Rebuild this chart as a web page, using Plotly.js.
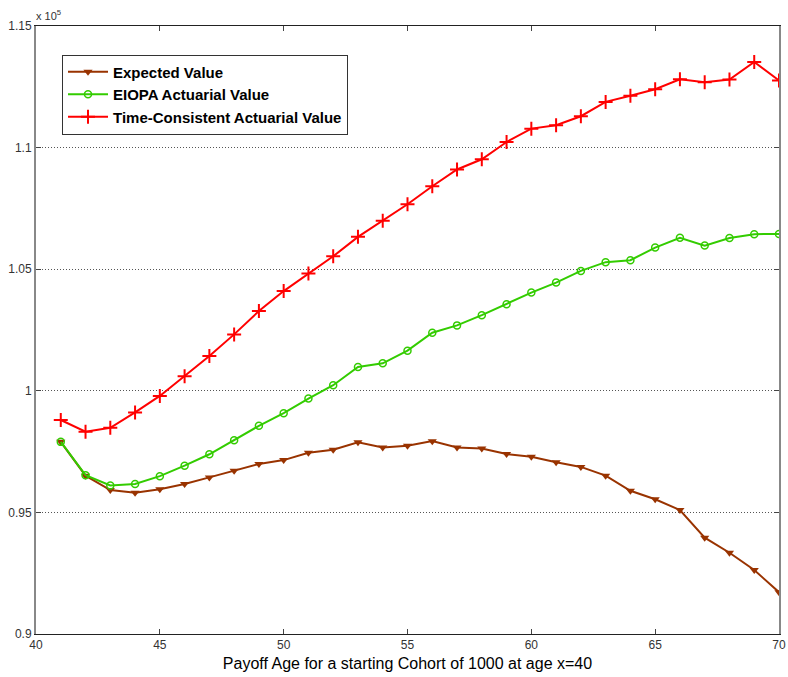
<!DOCTYPE html>
<html>
<head>
<meta charset="utf-8">
<script src="https://cdn.plot.ly/plotly-3.0.1.min.js"></script>
<style>html,body{margin:0;padding:0;background:#fff;}#chart{width:788px;height:677px;}</style>
</head>
<body>
<div id="chart"></div>
<script>
// Payoff ages
var ages = [41,42,43,44,45,46,47,48,49,50,51,52,53,54,55,56,57,58,59,60,61,62,63,64,65,66,67,68,69,70];
// Values in units of 10^5
var expectedValue = [0.979,0.9651,0.9592,0.9581,0.9595,0.9617,0.9644,0.9671,0.9699,0.9715,0.9745,0.9758,0.9788,0.9767,0.9774,0.9793,0.9767,0.9763,0.974,0.9729,0.9706,0.9687,0.9651,0.9589,0.9554,0.951,0.9396,0.9334,0.9263,0.9172];
var eiopaValue = [0.979,0.9653,0.9611,0.9617,0.9649,0.9692,0.9739,0.9797,0.9856,0.9908,0.9968,1.0023,1.0098,1.0113,1.0165,1.0239,1.0269,1.0311,1.0356,1.0404,1.0445,1.0493,1.0529,1.0537,1.0589,1.0629,1.0597,1.0628,1.0644,1.0645];
var timeConsistentValue = [0.988,0.9832,0.9848,0.9911,0.9979,1.006,1.0143,1.0232,1.0328,1.041,1.0482,1.0553,1.0633,1.0699,1.0767,1.0841,1.091,1.0952,1.1023,1.1078,1.1092,1.1129,1.1188,1.1213,1.124,1.1281,1.1269,1.128,1.1352,1.1276];
var seriesNames = ['Expected Value','EIOPA Actuarial Value','Time-Consistent Actuarial Value'];
var xTicks = [40,45,50,55,60,65,70];
var yTicks = [0.9,0.95,1,1.05,1.1,1.15];
var yTickLabels = ['0.9','0.95','1','1.05','1.1','1.15'];

var traces = [
  {x: ages, y: expectedValue, name: seriesNames[0], type: 'scatter', mode: 'lines+markers',
   line: {color: '#993300', width: 2},
   marker: {symbol: 'triangle-down', size: 8, color: '#993300'}},
  {x: ages, y: eiopaValue, name: seriesNames[1], type: 'scatter', mode: 'lines+markers',
   line: {color: '#33cc00', width: 2},
   marker: {symbol: 'circle-open', size: 7, color: '#33cc00', line: {width: 1.5, color: '#33cc00'}}},
  {x: ages, y: timeConsistentValue, name: seriesNames[2], type: 'scatter', mode: 'lines+markers',
   line: {color: '#ff0000', width: 2},
   marker: {symbol: 'cross-thin-open', size: 10, color: '#ff0000', line: {width: 2, color: '#ff0000'}}}
];

var layout = {
  width: 788, height: 677,
  margin: {l: 36, r: 9, t: 26, b: 43, pad: 0},
  paper_bgcolor: '#fff', plot_bgcolor: '#fff',
  font: {family: 'Liberation Sans, Arial, sans-serif', size: 12, color: '#222'},
  showlegend: true,
  legend: {
    x: 0.035, y: 0.953, xanchor: 'left', yanchor: 'top',
    bgcolor: '#fff', bordercolor: '#333', borderwidth: 1,
    font: {family: 'Liberation Sans, Arial, sans-serif', size: 15, color: '#000', weight: 'bold'},
    tracegroupgap: 0, itemwidth: 40
  },
  xaxis: {
    range: [40, 70], tickvals: xTicks, ticktext: xTicks.map(String),
    showgrid: false, zeroline: false,
    showline: true, linecolor: '#222', linewidth: 1, mirror: 'ticks',
    ticks: 'inside', ticklen: 5, tickcolor: '#444',
    tickfont: {size: 12, color: '#333'},
    title: {text: 'Payoff Age for a starting Cohort of 1000 at age x=40', font: {size: 16, color: '#000'}, standoff: 6}
  },
  yaxis: {
    range: [0.9, 1.15], tickvals: yTicks, ticktext: yTickLabels,
    showgrid: true, gridcolor: '#555', griddash: '1px,2px', gridwidth: 1,
    zeroline: false,
    showline: true, linecolor: '#888', linewidth: 2, mirror: 'ticks',
    ticks: 'inside', ticklen: 5, tickcolor: '#444',
    tickfont: {size: 12, color: '#333'}
  },
  annotations: [
    {text: 'x 10<sup>5</sup>', xref: 'paper', yref: 'paper', x: 0, y: 1, xanchor: 'left', yanchor: 'bottom',
     showarrow: false, font: {size: 11, color: '#333'}, xshift: -2, yshift: 2}
  ]
};

Plotly.newPlot('chart', traces, layout, {displayModeBar: false, staticPlot: true});
</script>
</body>
</html>
